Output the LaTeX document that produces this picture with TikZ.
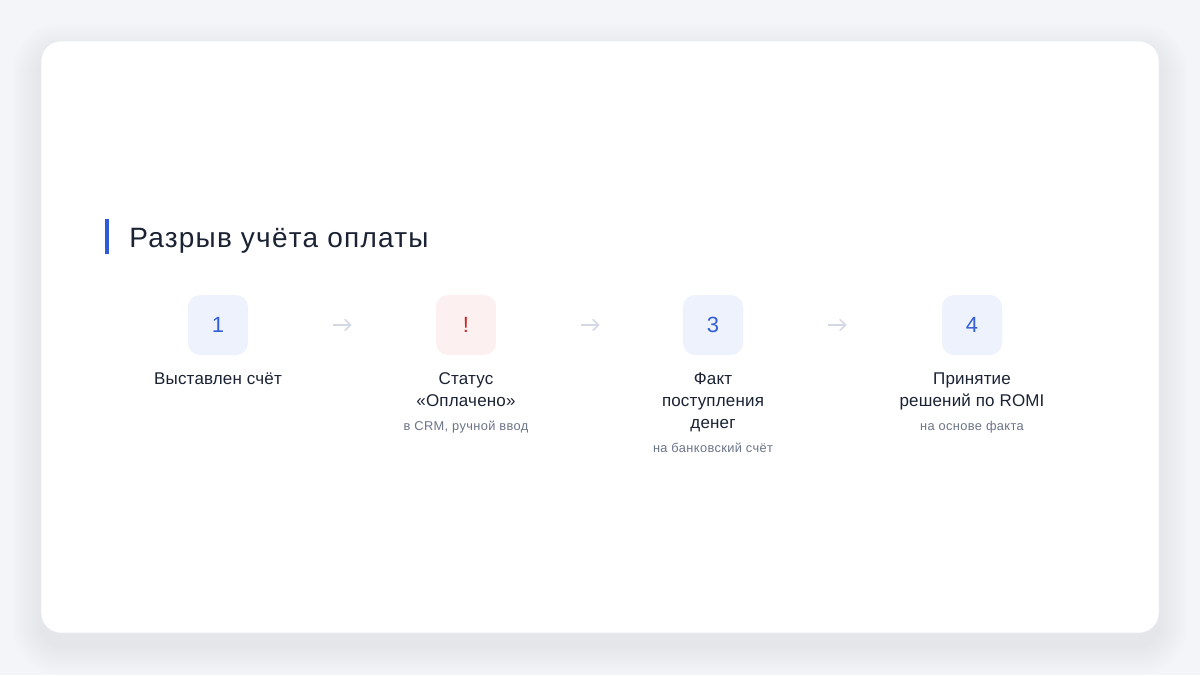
\documentclass[tikz,border=0pt]{standalone}
\usepackage{fontspec}
\setmainfont{Liberation Sans}
\newfontfamily\titlefont[LetterSpace=4.5]{Liberation Sans}
\newfontfamily\subfont[LetterSpace=3]{Liberation Sans}
\newfontfamily\lblfont[LetterSpace=1]{Liberation Sans}
\usetikzlibrary{arrows.meta}
\definecolor{pagebg}{HTML}{F4F5F8}
\definecolor{cardborder}{HTML}{E8EBF1}
\definecolor{accent}{HTML}{2F5BD8}
\definecolor{ink}{HTML}{1A2233}
\definecolor{muted}{HTML}{6B7488}
\definecolor{boxblue}{HTML}{EEF2FC}
\definecolor{numblue}{HTML}{3360D8}
\definecolor{boxred}{HTML}{FDF0F0}
\definecolor{numred}{HTML}{C62828}
\definecolor{arrowgray}{HTML}{D3D8E4}
\tikzset{
  stepbox/.style={minimum width=45pt, minimum height=45pt, inner sep=0pt, rounded corners=9pt, font=\fontsize{16.5pt}{18pt}\selectfont},
  lbl/.style={anchor=base, inner sep=0pt, text=ink, font=\lblfont\fontsize{12.75pt}{16.5pt}\selectfont},
  sub/.style={anchor=base, inner sep=0pt, text=muted, font=\subfont\fontsize{9.6pt}{12pt}\selectfont},
  flow/.style={draw=arrowgray, line width=1.1pt, -{Straight Barb[length=4.5pt,width=8.5pt,line width=1.1pt]}, shorten <=63.75pt}
}
\begin{document}
\begin{tikzpicture}[x=0.75pt,y=-0.75pt]
\fill[pagebg] (0,0) rectangle (1200,675);
\useasboundingbox (0,0) rectangle (1200,675);
% shadow
\foreach \i in {2,4,...,30} {
  \fill[black!70!blue, opacity=0.0022, rounded corners=15pt+0.75*\i pt]
    (41-\i,41-\i+12) rectangle (1159+\i,633+\i+12);
}
\filldraw[fill=white, draw=cardborder, line width=0.5pt, rounded corners=15pt] (41,41) rectangle (1159,633);
% title
\fill[accent] (105,219) rectangle (109,254);
\node[anchor=base west, inner sep=0pt, text=ink, font=\titlefont\fontsize{21pt}{24pt}\selectfont] (title) at (129,247) {Разрыв учёта оплаты};
% step boxes
\node[stepbox, fill=boxblue, text=numblue] (b1) at (218,325) {1};
\node[stepbox, fill=boxred, text=numred] (b2) at (466,325) {!};
\node[stepbox, fill=boxblue, text=numblue] (b3) at (713,325) {3};
\node[stepbox, fill=boxblue, text=numblue] (b4) at (972,325) {4};
% connectors
\draw[flow, shorten >=63pt] (b1) -- (b2);
\draw[flow, shorten >=62.25pt] (b2) -- (b3);
\draw[flow, shorten >=71.25pt] (b3) -- (b4);
% labels
\node[lbl] (l1a) at (218,384) {Выставлен счёт};
\node[lbl] (l2a) at (466,384) {Статус};
\node[lbl] (l2b) at (466,406) {«Оплачено»};
\node[sub] (s2) at (466,430) {в CRM, ручной ввод};
\node[lbl] (l3a) at (713,384) {Факт};
\node[lbl] (l3b) at (713,406) {поступления};
\node[lbl] (l3c) at (713,428) {денег};
\node[sub] (s3) at (713,452) {на банковский счёт};
\node[lbl] (l4a) at (972,384) {Принятие};
\node[lbl] (l4b) at (972,406) {решений по ROMI};
\node[sub] (s4) at (972,430) {на основе факта};
\end{tikzpicture}
\end{document}
